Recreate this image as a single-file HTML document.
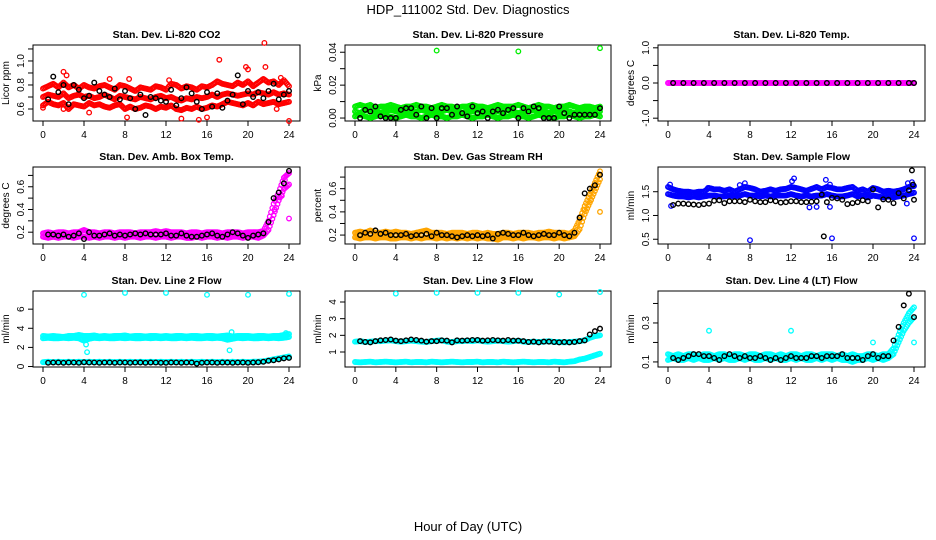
<!DOCTYPE html>
<html><head><meta charset="utf-8"><title>HDP_111002 Std. Dev. Diagnostics</title>
<style>body{margin:0;background:#fff}svg{display:block;font-family:"Liberation Sans",Arial,sans-serif}</style>
</head><body>
<svg id="chart" width="936" height="540" viewBox="0 0 936 540" xmlns="http://www.w3.org/2000/svg">
<text x="468" y="14" text-anchor="middle" font-size="13">HDP_111002  Std. Dev. Diagnostics</text>
<text x="468" y="531" text-anchor="middle" font-size="13">Hour of Day (UTC)</text>
</svg>
<script>
const hours = [0,0.5,1,1.5,2,2.5,3,3.5,4,4.5,5,5.5,6,6.5,7,7.5,8,8.5,9,9.5,10,10.5,11,11.5,12,12.5,13,13.5,14,14.5,15,15.5,16,16.5,17,17.5,18,18.5,19,19.5,20,20.5,21,21.5,22,22.5,23,23.5,24];
const xTicks = [0,4,8,12,16,20,24];
const panelTitles = ["Stan. Dev. Li-820 CO2","Stan. Dev. Li-820 Pressure","Stan. Dev. Li-820 Temp.","Stan. Dev. Amb. Box Temp.","Stan. Dev. Gas Stream RH","Stan. Dev. Sample Flow","Stan. Dev. Line 2 Flow","Stan. Dev. Line 3 Flow","Stan. Dev. Line 4 (LT) Flow"];
const yTitles = ["Licor ppm","kPa","degrees C","degrees C","percent","ml/min","ml/min","ml/min","ml/min"];
const seriesColors = ["#ff0000","#00ee00","#ff00ff","#ff00ff","#ffa500","#0000ff","#00ffff","#00ffff","#00ffff"];
const yRanges = [[0.5,1.133],[-0.0018,0.0444],[-1.08,1.08],[0.096,0.774],[0.123,0.787],[0.4,2.02],[-0.05,7.9],[0.1,4.66],[0.074,0.464]];
const yTicks = [[0.6,0.7,0.8,0.9,1.0,1.1],[0,0.01,0.02,0.03,0.04],[-1,-0.5,0,0.5,1],[0.2,0.3,0.4,0.5,0.6,0.7],[0.2,0.3,0.4,0.5,0.6,0.7],[0.5,1.0,1.5],[0,2,4,6],[1,2,3,4],[0.1,0.2,0.3,0.4]];
const yLabels = [["0.6","","0.8","","1.0",""],["0.00","","0.02","","0.04"],["-1.0","","0.0","","1.0"],["0.2","","0.4","","0.6",""],["0.2","","0.4","","0.6",""],["0.5","1.0","1.5"],["0","2","4","6"],["1","2","3","4"],["0.1","","0.3",""]];

const co2A = [0.77,0.79,0.81,0.78,0.82,0.78,0.8,0.77,0.8,0.78,0.77,0.79,0.8,0.78,0.76,0.8,0.79,0.77,0.75,0.78,0.77,0.76,0.79,0.78,0.76,0.81,0.8,0.77,0.79,0.78,0.76,0.79,0.78,0.8,0.83,0.81,0.8,0.79,0.82,0.8,0.83,0.79,0.82,0.85,0.82,0.83,0.8,0.84,0.79];
const co2B = [0.7,0.72,0.71,0.7,0.73,0.69,0.71,0.72,0.7,0.71,0.69,0.7,0.72,0.7,0.68,0.71,0.7,0.69,0.68,0.7,0.69,0.68,0.7,0.71,0.69,0.7,0.68,0.67,0.69,0.68,0.7,0.69,0.7,0.72,0.7,0.72,0.73,0.72,0.71,0.72,0.73,0.72,0.74,0.73,0.72,0.74,0.72,0.73,0.72];
const co2C = [0.63,0.66,0.64,0.63,0.65,0.6,0.64,0.63,0.62,0.65,0.63,0.64,0.62,0.61,0.63,0.64,0.6,0.62,0.6,0.61,0.63,0.62,0.6,0.62,0.61,0.63,0.6,0.59,0.61,0.6,0.62,0.6,0.61,0.63,0.62,0.64,0.66,0.65,0.64,0.63,0.65,0.63,0.66,0.64,0.65,0.66,0.64,0.65,0.66];
const co2Out = [[0,0.61],[2,0.91],[2.3,0.88],[8.4,0.85],[8.2,0.53],[12.3,0.84],[13.5,0.52],[15.2,0.51],[16,0.53],[17.2,1.01],[19.8,0.95],[20,0.93],[21.6,1.15],[21.7,0.95],[22.8,0.6],[23.2,0.86],[24,0.5],[4.5,0.57],[2,0.6],[6.5,0.85]];
const co2Black = [null,0.68,0.87,0.74,0.8,0.64,0.8,0.76,0.69,0.71,0.82,0.75,0.72,0.7,0.77,0.68,0.75,0.69,0.6,0.72,0.55,0.7,0.69,0.67,0.66,0.76,0.63,0.69,0.78,0.73,0.66,0.6,0.74,0.62,0.73,0.61,0.67,0.72,0.88,0.64,0.75,0.7,0.74,0.69,0.75,0.81,0.68,0.72,0.75];
const prA = [0.007,0.008,0.007,0.008,0.006,0.007,0.007,0.008,0.007,0.006,0.007,0.007,0.008,0.007,0.007,0.006,0.007,0.008,0.007,0.007,0.006,0.007,0.007,0.008,0.007,0.007,0.006,0.007,0.008,0.007,0.007,0.007,0.008,0.007,0.006,0.007,0.008,0.007,0.007,0.006,0.007,0.007,0.008,0.007,0.006,0.007,0.007,0.006,0.007];
const prB = [0.004,0.003,0.005,0.004,0.004,0.003,0.004,0.005,0.004,0.004,0.003,0.004,0.004,0.005,0.004,0.003,0.004,0.004,0.005,0.004,0.004,0.003,0.004,0.004,0.005,0.004,0.003,0.004,0.004,0.004,0.005,0.004,0.003,0.004,0.004,0.005,0.004,0.004,0.003,0.004,0.004,0.005,0.004,0.003,0.004,0.004,0.004,0.003,0.004];
const prC = [0.001,0.002,0.001,0,0.001,0.002,0.001,0.001,0,0.001,0.002,0.001,0.001,0,0.001,0.002,0.001,0.001,0,0.001,0.001,0.002,0.001,0,0.001,0.001,0.002,0.001,0,0.001,0.001,0.002,0.001,0.001,0,0.001,0.002,0.001,0.001,0,0.001,0.001,0.002,0.001,0,0.001,0.001,0.002,0.001];
const prOut = [[8,0.041],[16,0.0405],[24,0.0425]];
const prBlack = [null,0,0.005,0.004,0.007,0.001,0,0,0,0.005,0.006,0.006,0.002,0.007,0,0.006,0,0.006,0.006,0.002,0.007,0.003,0.001,0.007,0.003,0.004,0,0.004,0.005,0.003,0.005,0.006,0,0.006,0.004,0.007,0.006,0,0,0,0.007,0.003,0,0.002,0.002,0.002,0.002,0.002,0.006];
const tmA = [0,0,0,0,0,0,0,0,0,0,0,0,0,0,0,0,0,0,0,0,0,0,0,0,0,0,0,0,0,0,0,0,0,0,0,0,0,0,0,0,0,0,0,0,0,0,0,0,0];
const tmBlack = [null,0,null,0,null,0,null,0,null,0,null,0,null,0,null,0,null,0,null,0,null,0,null,0,null,0,null,0,null,0,null,0,null,0,null,0,null,0,null,0,null,0,null,0,null,0,null,0,0];
const abA = [0.19,0.2,0.19,0.2,0.2,0.19,0.2,0.2,0.22,0.2,0.2,0.19,0.2,0.2,0.19,0.2,0.2,0.2,0.19,0.2,0.2,0.2,0.21,0.2,0.21,0.2,0.2,0.2,0.19,0.2,0.2,0.19,0.2,0.2,0.2,0.19,0.2,0.2,0.2,0.19,0.2,0.2,0.2,0.21,0.3,0.45,0.55,0.68,0.72];
const abB = [0.16,0.15,0.16,0.15,0.16,0.16,0.15,0.16,0.16,0.15,0.16,0.15,0.16,0.16,0.15,0.16,0.15,0.16,0.16,0.15,0.16,0.16,0.15,0.16,0.16,0.15,0.16,0.16,0.15,0.15,0.16,0.15,0.16,0.16,0.15,0.16,0.15,0.16,0.16,0.15,0.16,0.16,0.15,0.17,0.22,0.35,0.48,0.58,0.62];
const abOut = [[24,0.32],[22.6,0.4],[23.3,0.52],[23.6,0.66]];
const abBlack = [null,0.18,0.18,0.17,0.18,0.16,0.17,0.19,0.14,0.2,0.17,0.17,0.18,0.19,0.17,0.18,0.17,0.18,0.19,0.18,0.19,0.18,0.18,0.18,0.19,0.17,0.17,0.19,0.17,0.16,0.16,0.17,0.18,0.19,0.17,0.16,0.18,0.2,0.19,0.17,0.15,0.17,0.18,0.19,0.29,0.5,0.55,0.63,0.74];
const rhA = [0.22,0.23,0.22,0.24,0.22,0.22,0.23,0.22,0.23,0.22,0.22,0.21,0.22,0.23,0.24,0.22,0.22,0.22,0.21,0.22,0.22,0.22,0.21,0.22,0.22,0.21,0.22,0.21,0.21,0.22,0.22,0.21,0.22,0.22,0.22,0.21,0.22,0.22,0.23,0.22,0.22,0.22,0.21,0.24,0.33,0.45,0.55,0.65,0.75];
const rhB = [0.18,0.17,0.18,0.18,0.17,0.18,0.18,0.17,0.17,0.18,0.18,0.17,0.18,0.17,0.18,0.18,0.17,0.18,0.17,0.18,0.17,0.18,0.17,0.18,0.17,0.18,0.17,0.17,0.16,0.18,0.18,0.17,0.18,0.17,0.18,0.18,0.17,0.18,0.18,0.17,0.18,0.17,0.18,0.19,0.25,0.38,0.48,0.58,0.68];
const rhOut = [[24,0.4],[22.5,0.42],[23.1,0.5]];
const rhBlack = [null,0.2,0.22,0.21,0.24,0.21,0.22,0.2,0.2,0.2,0.21,0.19,0.2,0.2,0.21,0.19,0.22,0.2,0.2,0.19,0.18,0.19,0.2,0.19,0.2,0.19,0.2,0.17,0.21,0.22,0.21,0.2,0.2,0.22,0.2,0.19,0.2,0.21,0.2,0.2,0.22,0.2,0.19,0.22,0.35,0.56,0.6,0.63,0.72];
const sfA = [1.6,1.55,1.52,1.5,1.5,1.48,1.5,1.5,1.58,1.55,1.55,1.52,1.55,1.5,1.55,1.6,1.58,1.55,1.5,1.52,1.55,1.52,1.55,1.56,1.6,1.58,1.55,1.52,1.56,1.6,1.55,1.6,1.58,1.55,1.55,1.58,1.6,1.52,1.55,1.5,1.58,1.55,1.5,1.52,1.5,1.52,1.55,1.6,1.62];
const sfB = [1.45,1.42,1.4,1.4,1.38,1.4,1.38,1.4,1.42,1.42,1.4,1.4,1.42,1.4,1.42,1.45,1.42,1.42,1.4,1.42,1.4,1.42,1.42,1.42,1.45,1.42,1.4,1.42,1.4,1.42,1.42,1.45,1.42,1.4,1.4,1.42,1.45,1.4,1.42,1.38,1.42,1.4,1.38,1.4,1.38,1.4,1.42,1.45,1.48];
const sfOut = [[0.2,1.65],[0.3,1.2],[8,0.48],[16,0.52],[24,0.52],[7,1.64],[7.5,1.68],[12.1,1.72],[12.3,1.78],[15.4,1.75],[15.8,1.65],[13.8,1.17],[14.5,1.18],[15.8,1.18],[23.4,1.68],[23.8,1.7],[23.3,1.25],[5,1.55],[3.9,1.58]];
const sfBlack = [null,1.22,1.25,1.25,1.24,1.23,1.22,1.24,1.25,1.31,1.32,1.26,1.3,1.3,1.3,1.28,1.33,1.3,1.28,1.28,1.32,1.3,1.27,1.28,1.3,1.3,1.28,1.28,1.29,1.3,1.44,1.28,1.37,1.36,1.33,1.24,1.26,1.28,1.32,1.3,1.55,1.17,1.34,1.33,1.26,1.47,1.36,1.53,1.33];
const sfBlackOut = [[15.2,0.56],[23.8,1.95],[23.9,1.65]];
const l2A = [3.2,3.15,3.2,3.15,3.1,3.2,3.2,3.3,3.2,3.2,3.25,3.15,3.2,3.15,3.2,3.2,3.25,3.15,3.2,3.2,3.15,3.2,3.2,3.15,3.2,3.15,3.2,3.2,3.15,3.2,3.2,3.15,3.2,3.2,3.15,3.2,3.25,3.15,3.2,3.2,3.2,3.15,3.2,3.2,3.15,3.2,3.2,3.3,3.4];
const l2B = [2.95,3.0,2.95,2.95,3.0,2.95,3.0,2.95,2.7,2.9,3.0,2.95,3.0,2.95,2.95,3.0,2.95,3.0,2.95,2.95,3.0,2.95,3.0,2.95,3.0,2.95,2.95,3.0,2.95,3.0,2.95,2.95,3.0,2.95,3.0,2.95,2.8,2.9,3.0,2.95,3.0,2.95,2.95,3.0,2.95,3.0,2.95,3.0,3.1];
const l2C = [0.45,0.5,0.45,0.5,0.45,0.5,0.45,0.5,0.45,0.5,0.45,0.5,0.45,0.5,0.45,0.5,0.45,0.5,0.45,0.5,0.45,0.5,0.45,0.5,0.45,0.5,0.45,0.5,0.45,0.5,0.45,0.5,0.45,0.5,0.45,0.5,0.45,0.5,0.45,0.5,0.45,0.5,0.5,0.55,0.65,0.75,0.85,0.95,1.05];
const l2Out = [[4,7.5],[8,7.7],[12,7.7],[16,7.5],[20,7.5],[24,7.6],[4.2,2.3],[4.3,1.5],[18.2,1.7],[18.4,3.6],[23.7,3.5]];
const l2Black = [null,0.4,0.42,0.42,0.4,0.42,0.42,0.4,0.45,0.42,0.42,0.4,0.42,0.42,0.4,0.42,0.42,0.4,0.42,0.42,0.4,0.42,0.42,0.4,0.4,0.42,0.42,0.4,0.42,0.42,0.3,0.4,0.42,0.42,0.4,0.42,0.42,0.4,0.42,0.42,0.4,0.42,0.45,0.5,0.6,0.65,0.75,0.85,0.9];
const l3A = [1.62,1.65,1.6,1.62,1.65,1.65,1.68,1.7,1.65,1.62,1.65,1.68,1.65,1.62,1.6,1.65,1.68,1.7,1.62,1.6,1.65,1.65,1.68,1.65,1.7,1.65,1.62,1.65,1.68,1.65,1.62,1.65,1.68,1.62,1.6,1.62,1.6,1.62,1.65,1.6,1.6,1.58,1.6,1.62,1.65,1.7,1.85,1.95,2.0];
const l3B = [0.4,0.38,0.4,0.42,0.38,0.4,0.42,0.4,0.38,0.4,0.42,0.38,0.4,0.4,0.38,0.42,0.4,0.38,0.4,0.42,0.4,0.38,0.4,0.4,0.42,0.38,0.4,0.4,0.38,0.42,0.4,0.38,0.4,0.42,0.4,0.38,0.4,0.4,0.38,0.42,0.4,0.38,0.42,0.45,0.55,0.6,0.7,0.8,0.9];
const l3Out = [[4,4.5],[8,4.55],[12,4.55],[16,4.55],[20,4.45],[24,4.6]];
const l3Black = [null,1.65,1.6,1.58,1.65,1.7,1.72,1.75,1.68,1.65,1.7,1.75,1.72,1.68,1.62,1.65,1.65,1.7,1.68,1.58,1.7,1.68,1.7,1.72,1.72,1.68,1.7,1.72,1.7,1.68,1.72,1.68,1.68,1.65,1.6,1.62,1.58,1.62,1.62,1.6,1.58,1.6,1.58,1.6,1.65,1.7,2.05,2.25,2.4];
const l4A = [0.14,0.13,0.14,0.13,0.14,0.14,0.13,0.14,0.14,0.13,0.14,0.14,0.13,0.14,0.14,0.13,0.14,0.14,0.13,0.14,0.14,0.13,0.14,0.13,0.14,0.14,0.13,0.14,0.14,0.13,0.14,0.14,0.14,0.13,0.14,0.13,0.14,0.13,0.13,0.14,0.14,0.13,0.14,0.14,0.17,0.24,0.3,0.35,0.38];
const l4B = [0.11,0.12,0.11,0.11,0.12,0.11,0.12,0.11,0.11,0.12,0.11,0.12,0.11,0.11,0.12,0.11,0.12,0.11,0.11,0.12,0.11,0.12,0.11,0.11,0.12,0.11,0.12,0.11,0.11,0.12,0.11,0.12,0.11,0.12,0.11,0.11,0.1,0.11,0.11,0.12,0.11,0.12,0.11,0.12,0.14,0.2,0.26,0.3,0.33];
const l4Out = [[4,0.26],[12,0.26],[20,0.2],[24,0.2]];
const l4Black = [null,0.12,0.11,0.12,0.13,0.14,0.14,0.13,0.13,0.12,0.11,0.13,0.14,0.13,0.12,0.13,0.12,0.12,0.13,0.12,0.11,0.12,0.11,0.12,0.13,0.12,0.12,0.12,0.13,0.13,0.12,0.13,0.13,0.13,0.14,0.12,0.12,0.12,0.11,0.13,0.14,0.12,0.13,0.13,0.21,0.28,0.39,0.45,0.33];

const colorSeries = [[co2A,co2B,co2C],[prA,prB,prC],[tmA],[abA,abB],[rhA,rhB],[sfA,sfB],[l2A,l2B,l2C],[l3A,l3B],[l4A,l4B]];
const colorOutliers = [co2Out,prOut,[],abOut,rhOut,sfOut,l2Out,l3Out,l4Out];
const blackSeries = [co2Black,prBlack,tmBlack,abBlack,rhBlack,sfBlack,l2Black,l3Black,l4Black];
const blackOutliers = [[],[],[],[],[],sfBlackOut,[],[],[]];

const NS = "http://www.w3.org/2000/svg";
const svg = document.getElementById("chart");
const colX0 = [43,355,668], colX24 = [289,600,914];
const rowTop = [45,167,291], rowBot = [121,244,367];
const PR = 2.3, PW = 1.3;
function mk(tag, attrs, parent){const e=document.createElementNS(NS,tag);for(const k in attrs)e.setAttribute(k,attrs[k]);(parent||svg).appendChild(e);return e;}

for (let p=0;p<9;p++){
  const c=p%3, r=Math.floor(p/3);
  const g = mk("g",{});
  
  
  const x0=colX0[c], x1=colX24[c], top=rowTop[r], bot=rowBot[r];
  const [ymin,ymax]=yRanges[p];
  const xs = v => x0 + (v/24)*(x1-x0);
  const ys = v => bot - (v-ymin)/(ymax-ymin)*(bot-top);
  const L=x0-10, R=x1+11;
  const box = mk("rect",{x:L,y:top,width:R-L,height:bot-top,fill:"none",stroke:"#000","stroke-width":1},g);
  
  
  const t = mk("text",{x:(L+R)/2,y:top-7,"text-anchor":"middle","font-size":10.5,"font-weight":"bold"},g);
  t.textContent = panelTitles[p];
  
  
  for (const v of xTicks){
    const tk = mk("line",{x1:xs(v),x2:xs(v),y1:bot,y2:bot+5,stroke:"#000"},g);
    
    
    const tl = mk("text",{x:xs(v),y:bot+17,"text-anchor":"middle","font-size":10},g);
    tl.textContent = String(v);
    
    
  }
  yTicks[p].forEach((v,i)=>{
    const y=ys(v);
    const tk = mk("line",{x1:L-5,x2:L,y1:y,y2:y,stroke:"#000"},g);
    
    
    if (yLabels[p][i]){
      const tl = mk("text",{x:0,y:0,"text-anchor":"middle","font-size":10,transform:`translate(${L-9},${y}) rotate(-90)`},g);
      tl.textContent = yLabels[p][i];
      
      
    }
  });
  const yt = mk("text",{x:0,y:0,"text-anchor":"middle","font-size":10,transform:`translate(${L-24},${(top+bot)/2}) rotate(-90)`},g);
  yt.textContent = yTitles[p];
  
  
  const col = seriesColors[p];
  colorSeries[p].forEach(arr=>{
    arr.forEach((v,i)=>{
      if (v===null) return;
      const pt = mk("circle",{cx:xs(hours[i]),cy:ys(v),r:PR,fill:"none",stroke:col,"stroke-width":PW},g);
      
      
      if (i<hours.length-1){
        for (const f of [0.25,0.5,0.75]){
          const pt2 = mk("circle",{cx:xs(hours[i]+f*(hours[i+1]-hours[i])),cy:ys(v+f*(arr[i+1]-v)),r:PR,fill:"none",stroke:col,"stroke-width":PW},g);
          
          
        }
      }
    });
  });
  colorOutliers[p].forEach(([h,v])=>{
    const pt = mk("circle",{cx:xs(h),cy:ys(v),r:PR,fill:"none",stroke:col,"stroke-width":PW},g);
    
    
  });
  blackSeries[p].forEach((v,i)=>{
    if (v===null) return;
    const pt = mk("circle",{cx:xs(hours[i]),cy:ys(v),r:PR,fill:"none",stroke:"#000","stroke-width":1.4},g);
    
    
  });
  blackOutliers[p].forEach(([h,v])=>{
    const pt = mk("circle",{cx:xs(h),cy:ys(v),r:PR,fill:"none",stroke:"#000","stroke-width":1.4},g);
    
    
  });
}
</script>
</body></html>
